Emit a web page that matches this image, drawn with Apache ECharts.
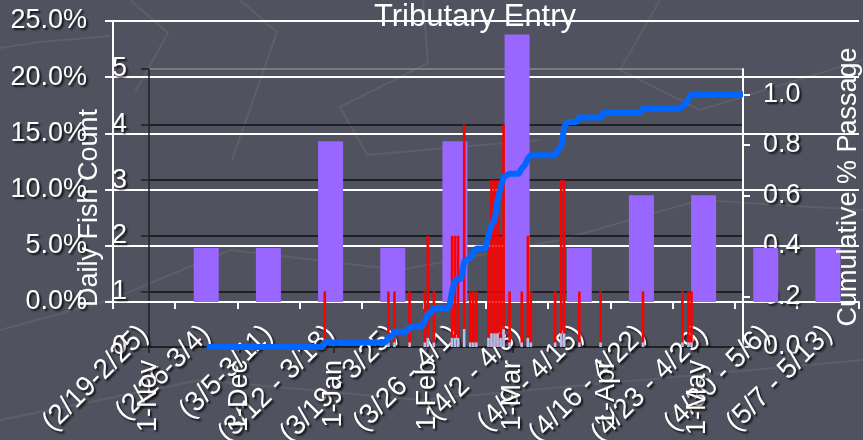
<!DOCTYPE html>
<html><head><meta charset="utf-8">
<script src="https://cdn.jsdelivr.net/npm/echarts@6/dist/echarts.min.js"></script>
<style>html,body{margin:0;padding:0;background:#50525f}#c{width:863px;height:440px}</style>
</head><body><div id="c"></div>
<script>
// ---- data ----
const categories = ['(2/19-2/25)','(2/26-3/4)','(3/5-3/11)','(3/12 - 3/18)','(3/19 - 3/25)','(3/26 - 4/1)','(4/2 - 4/8)','(4/9 - 4/15)','(4/16 - 4/22)','(4/23 - 4/29)','(4/30 - 5/6)','(5/7 - 5/13)'];
const weeklyPct = [0, 4.8, 4.8, 14.3, 4.8, 14.3, 23.8, 4.8, 9.5, 9.5, 4.8, 4.8];

const dailyDates = ['2008-12-29','2009-01-19','2009-01-21','2009-01-26','2009-01-31','2009-02-01','2009-02-03',
  '2009-02-09','2009-02-10','2009-02-11','2009-02-13','2009-02-15','2009-02-16','2009-02-17',
  '2009-02-21','2009-02-22','2009-02-23','2009-02-24','2009-02-25','2009-02-26','2009-02-28',
  '2009-03-04','2009-03-06','2009-03-07','2009-03-15','2009-03-17','2009-03-18','2009-03-23',
  '2009-03-30','2009-04-13','2009-04-26','2009-04-28','2009-04-29'];
const dailyCounts = [1,1,1,1,1,2,1, 2,2,2,4,1,1,1, 2,3,3,3,2,4,1, 1,2,1,1,3,3,1, 1,1,1,1,1];
const dailyShare = [0.018,0.018,0.018,0.018,0.018,0.036,0.018, 0.036,0.036,0.036,0.071,0.018,0.018,0.018,
  0.036,0.054,0.054,0.054,0.036,0.071,0.018, 0.018,0.036,0.018,0.018,0.054,0.054,0.018, 0.018,0.018,0.018,0.018,0.018];

const cumDates = ['2008-11-20','2008-12-28','2008-12-29','2009-01-18','2009-01-19','2009-01-20','2009-01-21','2009-01-25','2009-01-26',
  '2009-01-30','2009-01-31','2009-02-01','2009-02-02','2009-02-03','2009-02-08','2009-02-09','2009-02-10','2009-02-12','2009-02-13',
  '2009-02-14','2009-02-15','2009-02-17','2009-02-20','2009-02-21','2009-02-22','2009-02-23','2009-02-24','2009-02-25','2009-02-26',
  '2009-02-28','2009-03-03','2009-03-04','2009-03-05','2009-03-06','2009-03-07','2009-03-15','2009-03-16','2009-03-17','2009-03-18',
  '2009-03-19','2009-03-22','2009-03-23','2009-03-30','2009-03-31','2009-04-12','2009-04-13','2009-04-25','2009-04-26','2009-04-27',
  '2009-04-28','2009-04-29','2009-05-16'];
const cumShare = [0,0,0.018,0.018,0.04,0.04,0.06,0.06,0.08,
  0.08,0.10,0.134,0.134,0.153,0.153,0.22,0.265,0.27,0.337,
  0.345,0.352,0.39,0.39,0.44,0.482,0.50,0.58,0.63,0.673,
  0.686,0.686,0.706,0.72,0.745,0.759,0.759,0.779,0.79,0.87,
  0.89,0.89,0.908,0.908,0.927,0.927,0.943,0.943,0.953,0.963,
  0.98,1.0,1.0];

const monthTickDates = ['2008-11-01','2008-12-01','2009-01-01','2009-02-01','2009-03-01','2009-04-01','2009-05-01'];
const monthTickLabels = ['1-Nov','1-Dec','1-Jan','1-Feb','1-Mar','1-Apr','1-May'];
const passageTicks = [0, 0.2, 0.4, 0.6, 0.8, 1.0];
const dateRange = ['2008-11-01', '2009-05-16'];

// ---- helpers: dates -> day number since start of axis ----
function toTs(s){ const p = s.split('-').map(Number); return Date.UTC(p[0], p[1]-1, p[2]); }
const t0 = toTs(dateRange[0]);
const toDay = s => Math.round((toTs(s) - t0) / 86400000);
const monthDays = monthTickDates.map(toDay);
const FONT = 'Liberation Sans, Arial, sans-serif';
const shadow = {textShadowColor:'rgba(0,0,0,0.75)', textShadowBlur:2, textShadowOffsetX:2, textShadowOffsetY:2};
const txt = (size) => Object.assign({color:'#ffffff', fontSize:size, fontFamily:FONT}, shadow);
const deco = (pts) => ({type:'polyline', z:-10, silent:true, shape:{points:pts}, style:{stroke:'rgba(255,255,255,0.07)', lineWidth:2, fill:null}});

const chart = echarts.init(document.getElementById('c'), null, {renderer:'canvas'});
chart.setOption({
  backgroundColor:'#50525f',
  animation:false,
  graphic:[
    deco([[130,0],[168,33],[135,92]]),
    deco([[240,0],[277,32],[232,160]]),
    deco([[0,48],[40,42],[110,36]]),
    deco([[423,0],[428,63],[340,107],[367,155],[540,140]]),
    deco([[660,0],[620,70],[700,110],[863,60]]),
    deco([[0,330],[110,300],[230,250],[400,270],[560,240],[700,200],[863,210]]),
    deco([[0,420],[200,380],[420,400],[863,360]]),
    {type:'text', x:475, y:17, z:100, style:{text:'Tributary Entry', align:'center', verticalAlign:'middle', fill:'#fff', font:'31px '+FONT, shadowColor:'rgba(0,0,0,0.75)', shadowBlur:2, shadowOffsetX:2, shadowOffsetY:2}},
    {type:'text', x:90, y:208, rotation:Math.PI/2, z:100, style:{text:'Daily Fish Count', align:'center', verticalAlign:'middle', fill:'#fff', font:'27px '+FONT, shadowColor:'rgba(0,0,0,0.75)', shadowBlur:2, shadowOffsetX:2, shadowOffsetY:2}},
    {type:'text', x:849, y:187, rotation:Math.PI/2, z:100, style:{text:'Cumulative % Passage', align:'center', verticalAlign:'middle', fill:'#fff', font:'27px '+FONT, shadowColor:'rgba(0,0,0,0.75)', shadowBlur:2, shadowOffsetX:2, shadowOffsetY:2}}
  ],
  grid:[
    {left:113, right:4, top:21, bottom:138, containLabel:false, outerBoundsMode:'none'},
    {left:149, right:120, top:69, bottom:93, containLabel:false, outerBoundsMode:'none'}
  ],
  xAxis:[
    {type:'category', gridIndex:0, data:categories, boundaryGap:true,
     axisLine:{show:true, lineStyle:{color:'#fff', width:2}},
     axisTick:{show:true, length:7, interval:0, lineStyle:{color:'#fff', width:2}},
     axisLabel:Object.assign({interval:0, rotate:45, margin:28}, txt(28)),
     splitLine:{show:false}},
    {type:'value', gridIndex:1, min:0, max:toDay(dateRange[1]),
     axisLine:{show:true, lineStyle:{color:'#222', width:1.5}},
     axisTick:{show:true, length:6, customValues:monthDays, lineStyle:{color:'#222', width:1.5}},
     axisLabel:Object.assign({rotate:90, margin:13, customValues:monthDays,
       formatter:function(v){ const i = monthDays.indexOf(Math.round(v)); return i >= 0 ? monthTickLabels[i] : ''; }}, txt(27)),
     splitLine:{show:false}}
  ],
  yAxis:[
    {type:'value', gridIndex:0, min:0, max:25, interval:5,
     axisLine:{show:true, lineStyle:{color:'#fff', width:2}},
     axisTick:{show:true, length:8, lineStyle:{color:'#fff', width:2}},
     axisLabel:Object.assign({margin:26, formatter:v=>v.toFixed(1)+'%'}, txt(27)),
     splitLine:{show:true, lineStyle:{color:'#fff', width:2}}},
    {type:'value', gridIndex:1, min:0, max:5, interval:1,
     axisLine:{show:true, lineStyle:{color:'#222', width:1.5}},
     axisTick:{show:true, length:8, lineStyle:{color:'#222', width:1.5}},
     axisLabel:Object.assign({margin:22}, txt(27)),
     splitLine:{show:true, lineStyle:{color:['#111','#111','#111','#111','#111','#8a8a8a'], width:1.5}}},
    {type:'value', gridIndex:1, position:'right', min:0, max:1.1,
     axisLine:{show:true, lineStyle:{color:'#fff', width:2}},
     axisTick:{show:true, length:7, customValues:passageTicks, lineStyle:{color:'#fff', width:2}},
     axisLabel:Object.assign({margin:20, customValues:passageTicks, formatter:v=>v.toFixed(1)}, txt(27)),
     splitLine:{show:false}}
  ],
  series:[
    {type:'bar', xAxisIndex:0, yAxisIndex:0, data:weeklyPct, barWidth:25, itemStyle:{color:'#9966ff'}},
    {type:'bar', xAxisIndex:1, yAxisIndex:1, data:dailyDates.map((d,i)=>[toDay(d), dailyCounts[i]]), barWidth:2.6, barGap:'-100%', itemStyle:{color:'#ff0000'}},
    {type:'bar', xAxisIndex:1, yAxisIndex:2, data:dailyDates.map((d,i)=>[toDay(d), dailyShare[i]]), barWidth:2.6, barGap:'-100%', itemStyle:{color:'#a9c4ec'}},
    {type:'line', xAxisIndex:1, yAxisIndex:2, data:cumDates.map((d,i)=>[toDay(d), cumShare[i]]), showSymbol:false, symbol:'none',
     lineStyle:{color:'#0066ff', width:6, cap:'butt', join:'bevel'}, z:5}
  ]
});
</script></body></html>
